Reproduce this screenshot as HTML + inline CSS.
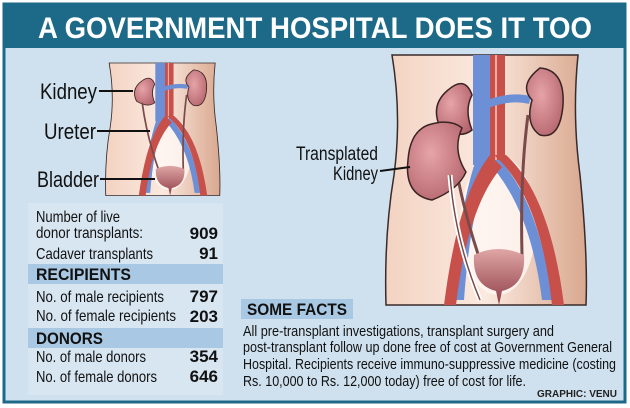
<!DOCTYPE html>
<html><head><meta charset="utf-8"><style>
html,body{margin:0;padding:0;background:#fff}
svg{display:block}
text{font-family:"Liberation Sans",sans-serif}
</style></head><body>
<svg width="630" height="408" viewBox="0 0 630 408" xmlns="http://www.w3.org/2000/svg">
<defs>
<linearGradient id="skin" x1="0" x2="1" y1="0" y2="0">
<stop offset="0" stop-color="#f3d3c2"/><stop offset="0.5" stop-color="#fbe9df"/><stop offset="1" stop-color="#d9a88f"/>
</linearGradient>
<radialGradient id="kid" cx="0.4" cy="0.4" r="0.7">
<stop offset="0" stop-color="#e6a4a8"/><stop offset="1" stop-color="#b4646c"/>
</radialGradient>
<linearGradient id="bl" x1="0" x2="0" y1="0" y2="1">
<stop offset="0" stop-color="#e0a6a6"/><stop offset="1" stop-color="#8f3f48"/>
</linearGradient>
<g id="body">
<path d="M2,0 L188,0 Q182,60 190,120 Q198,200 196,250 L-4,250 Q-6,180 4,120 Q12,60 2,0Z" fill="url(#skin)" stroke="#3a2a2a" stroke-width="1.5"/>
<ellipse cx="108" cy="170" rx="38" ry="70" fill="#fff8f4" opacity="0.8"/>
<rect x="83" y="0" width="17" height="110" fill="#6d8fd6"/>
<rect x="100" y="0" width="15" height="110" fill="#c8504a"/>
<line x1="106" y1="0" x2="106" y2="110" stroke="#f2a9a0" stroke-width="2"/>
<path d="M86,105 Q70,150 62,245 L74,245 Q80,160 98,112Z" fill="#6d8fd6"/>
<path d="M96,105 Q140,150 152,245 L162,245 Q150,150 110,105Z" fill="#6d8fd6"/>
<path d="M100,100 Q68,140 54,250 L66,250 Q78,150 112,112Z" fill="#c8504a"/>
<path d="M104,100 Q150,140 162,250 L174,250 Q160,140 116,100Z" fill="#c8504a"/>
<path d="M95,50 Q120,40 140,45" stroke="#6d8fd6" stroke-width="8" fill="none"/>
<path d="M58,35 Q75,20 82,40 Q74,55 82,75 Q70,85 50,72 Q40,50 58,35Z" fill="url(#kid)" stroke="#3a2424" stroke-width="1.5"/>
<path d="M150,13 Q175,15 173,50 Q170,85 150,80 Q135,70 142,45 Q128,30 150,13Z" fill="url(#kid)" stroke="#3a2424" stroke-width="1.5"/>
<path d="M138,60 Q130,120 132,200" stroke="#7a4a4a" stroke-width="3" fill="none"/>
<path d="M60,75 Q68,140 90,205" stroke="#7a4a4a" stroke-width="3" fill="none"/>
<path d="M84,200 Q108,188 134,200 Q136,230 112,236 L109,250 L106,236 Q82,230 84,200Z" fill="url(#bl)"/>
</g>
</defs>
<rect x="0" y="0" width="630" height="408" fill="#fff"/>
<rect x="4" y="4" width="621" height="398" fill="#cfe1ef" stroke="#1d6a88" stroke-width="3"/>
<rect x="5" y="5" width="619" height="43" fill="#1d6a88"/>
<text x="315" y="38" text-anchor="middle" font-weight="bold" font-size="30" fill="#fff" textLength="554" lengthAdjust="spacingAndGlyphs">A GOVERNMENT HOSPITAL DOES IT TOO</text>

<use href="#body" transform="translate(108,63) scale(0.57,0.53)"/>
<use href="#body" transform="translate(390,55)"/>
<path d="M428,125 Q450,118 462,128 Q452,150 466,172 Q458,190 432,200 Q404,195 408,160 Q410,132 428,125Z" fill="url(#kid)" stroke="#3a2424" stroke-width="1.5"/>
<path d="M450,175 Q455,240 480,300" stroke="#fff" stroke-width="5" fill="none"/>
<path d="M450,175 Q455,240 480,300" stroke="#7a4a4a" stroke-width="1.5" fill="none"/>
<line x1="380" y1="171" x2="410" y2="167" stroke="#111" stroke-width="2"/>
<text x="296" y="160" font-size="19" fill="#111" textLength="82" lengthAdjust="spacingAndGlyphs">Transplated</text>
<text x="333" y="180" font-size="19" fill="#111" textLength="45" lengthAdjust="spacingAndGlyphs">Kidney</text>

<g font-size="22" fill="#111">
<text x="40" y="99" textLength="57" lengthAdjust="spacingAndGlyphs">Kidney</text>
<text x="44" y="139" textLength="52" lengthAdjust="spacingAndGlyphs">Ureter</text>
<text x="37" y="187" textLength="62" lengthAdjust="spacingAndGlyphs">Bladder</text>
</g>
<g stroke="#111" stroke-width="2">
<line x1="99" y1="91" x2="133" y2="91"/>
<line x1="97" y1="131" x2="150" y2="131"/>
<line x1="100" y1="179" x2="155" y2="179"/>
</g>

<rect x="28" y="203" width="195" height="192" fill="#d8e6f2"/>
<rect x="28" y="264" width="195" height="20" fill="#a9c8e4"/>
<rect x="28" y="328" width="195" height="20" fill="#a9c8e4"/>
<g font-size="16" fill="#111">
<text x="36" y="222" textLength="84" lengthAdjust="spacingAndGlyphs">Number of live</text>
<text x="36" y="238" textLength="107" lengthAdjust="spacingAndGlyphs">donor transplants:</text>
<text x="36" y="259" textLength="117" lengthAdjust="spacingAndGlyphs">Cadaver transplants</text>
<text x="36" y="302" textLength="128" lengthAdjust="spacingAndGlyphs">No. of male recipients</text>
<text x="36" y="321" textLength="140" lengthAdjust="spacingAndGlyphs">No. of female recipients</text>
<text x="36" y="362" textLength="110" lengthAdjust="spacingAndGlyphs">No. of male donors</text>
<text x="36" y="382" textLength="121" lengthAdjust="spacingAndGlyphs">No. of female donors</text>
</g>
<g font-weight="bold" font-size="17" fill="#111" text-anchor="end">
<text x="218" y="239">909</text>
<text x="218" y="259">91</text>
<text x="218" y="302">797</text>
<text x="218" y="322">203</text>
<text x="218" y="362">354</text>
<text x="218" y="382">646</text>
</g>
<g font-weight="bold" font-size="17" fill="#111">
<text x="36" y="280" textLength="95" lengthAdjust="spacingAndGlyphs">RECIPIENTS</text>
<text x="36" y="344" textLength="67" lengthAdjust="spacingAndGlyphs">DONORS</text>
</g>
<rect x="241" y="299" width="112" height="20" fill="#a9c8e4"/>
<text x="247" y="315" font-weight="bold" font-size="17" fill="#111" textLength="100" lengthAdjust="spacingAndGlyphs">SOME FACTS</text>
<g font-size="15" fill="#111">
<text x="243" y="336" textLength="311" lengthAdjust="spacingAndGlyphs">All pre-transplant investigations, transplant surgery and</text>
<text x="243" y="352" textLength="369" lengthAdjust="spacingAndGlyphs">post-transplant follow up done free of cost at Government General</text>
<text x="243" y="369" textLength="373" lengthAdjust="spacingAndGlyphs">Hospital. Recipients receive immuno-suppressive medicine (costing</text>
<text x="243" y="386" textLength="283" lengthAdjust="spacingAndGlyphs">Rs. 10,000 to Rs. 12,000 today) free of cost for life.</text>
</g>
<text x="617" y="397" text-anchor="end" font-weight="bold" font-size="10" fill="#222">GRAPHIC: VENU</text>
</svg>
</body></html>
